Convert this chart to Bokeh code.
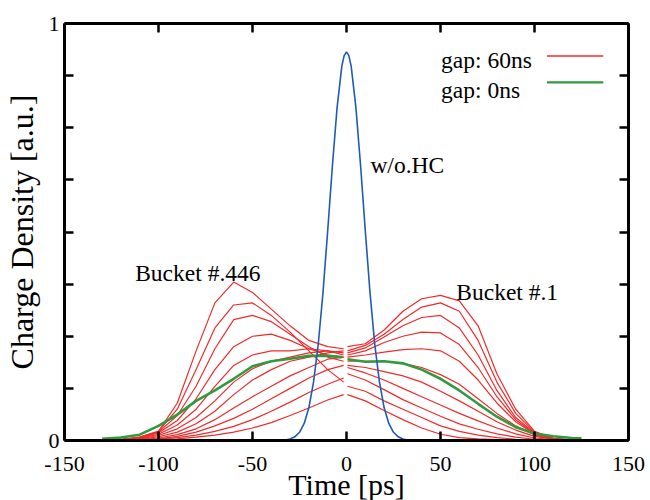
from bokeh.plotting import figure
from bokeh.models import LinearAxis, FixedTicker, Range1d, Label
from bokeh.embed import file_html
from bokeh.resources import INLINE

# ---------------- data ----------------
t_left = [-130, -120, -110, -100, -90, -80, -70, -60, -50, -40, -30, -20, -10, -1.5]
t_right = [0.5, 10, 20, 30, 40, 50, 60, 70, 80, 90, 100, 110, 120]

# gap 60 ns: profiles from bucket #446 (first row) to bucket #1 (last row)
red_left = [
    [0.0, 0.002, 0.008, 0.022, 0.090, 0.215, 0.330, 0.380, 0.355, 0.315, 0.275, 0.240, 0.225, 0.220],
    [0.0, 0.002, 0.008, 0.022, 0.075, 0.170, 0.270, 0.325, 0.330, 0.300, 0.260, 0.215, 0.170, 0.140],
    [0.0, 0.002, 0.007, 0.020, 0.060, 0.130, 0.220, 0.290, 0.300, 0.285, 0.255, 0.225, 0.200, 0.190],
    [0.0, 0.002, 0.006, 0.018, 0.048, 0.100, 0.170, 0.225, 0.250, 0.255, 0.240, 0.220, 0.205, 0.200],
    [0.0, 0.001, 0.005, 0.015, 0.037, 0.075, 0.130, 0.180, 0.205, 0.215, 0.215, 0.220, 0.215, 0.210],
    [0.0, 0.001, 0.004, 0.012, 0.028, 0.055, 0.095, 0.140, 0.172, 0.190, 0.200, 0.210, 0.215, 0.205],
    [0.0, 0.001, 0.003, 0.009, 0.020, 0.040, 0.070, 0.110, 0.145, 0.170, 0.190, 0.200, 0.210, 0.215],
    [0.0, 0.001, 0.002, 0.006, 0.014, 0.028, 0.050, 0.078, 0.105, 0.130, 0.155, 0.175, 0.195, 0.200],
    [0.0, 0.0, 0.002, 0.004, 0.010, 0.020, 0.035, 0.053, 0.075, 0.100, 0.125, 0.150, 0.170, 0.180],
    [0.0, 0.0, 0.001, 0.003, 0.007, 0.013, 0.022, 0.034, 0.050, 0.070, 0.092, 0.115, 0.135, 0.150],
    [0.0, 0.0, 0.001, 0.002, 0.004, 0.008, 0.013, 0.020, 0.030, 0.043, 0.060, 0.078, 0.097, 0.110],
]
red_right = [
    [0.110, 0.095, 0.072, 0.050, 0.030, 0.015, 0.007, 0.004, 0.002, 0.001, 0.0, 0.0, 0.0],
    [0.130, 0.118, 0.095, 0.075, 0.055, 0.035, 0.022, 0.013, 0.007, 0.003, 0.001, 0.0, 0.0],
    [0.160, 0.145, 0.122, 0.098, 0.078, 0.058, 0.040, 0.027, 0.016, 0.008, 0.003, 0.001, 0.0],
    [0.175, 0.162, 0.145, 0.125, 0.105, 0.085, 0.065, 0.047, 0.030, 0.016, 0.006, 0.002, 0.0],
    [0.180, 0.175, 0.165, 0.155, 0.140, 0.118, 0.095, 0.070, 0.045, 0.025, 0.010, 0.003, 0.001],
    [0.190, 0.190, 0.190, 0.185, 0.175, 0.158, 0.135, 0.100, 0.065, 0.035, 0.013, 0.003, 0.001],
    [0.200, 0.205, 0.212, 0.218, 0.220, 0.215, 0.190, 0.145, 0.090, 0.045, 0.015, 0.004, 0.001],
    [0.205, 0.215, 0.235, 0.250, 0.260, 0.258, 0.230, 0.175, 0.105, 0.050, 0.016, 0.004, 0.001],
    [0.210, 0.222, 0.248, 0.275, 0.295, 0.300, 0.270, 0.205, 0.120, 0.055, 0.018, 0.004, 0.001],
    [0.215, 0.228, 0.255, 0.290, 0.320, 0.330, 0.310, 0.240, 0.140, 0.065, 0.020, 0.005, 0.001],
    [0.225, 0.232, 0.265, 0.310, 0.340, 0.348, 0.335, 0.275, 0.160, 0.075, 0.022, 0.005, 0.001],
]

# gap 0 ns
green_t_left = [-130, -120, -110, -100, -90, -80, -70, -60, -50, -40, -30, -20, -10, -2.3]
green_left = [0.004, 0.007, 0.014, 0.035, 0.062, 0.095, 0.120, 0.148, 0.178, 0.190, 0.196, 0.203, 0.203, 0.200]
green_t_right = [0.5, 10, 20, 30, 40, 50, 60, 70, 80, 90, 100, 110, 120, 125]
green_right = [0.195, 0.189, 0.190, 0.185, 0.170, 0.148, 0.120, 0.088, 0.057, 0.032, 0.017, 0.010, 0.006, 0.005]

# without harmonic cavity
blue_t = [-35, -32.5, -30, -27.5, -25, -22.5, -20, -17.5, -15, -12.5, -10, -7.5, -5, -2.5, -1.25, 0,
          1.25, 2.5, 5, 7.5, 10, 12.5, 15, 17.5, 20, 22.5, 25, 27.5, 30, 32.5, 35]
blue_y = [0.0005, 0.0014, 0.0036, 0.0088, 0.0197, 0.041, 0.079, 0.141, 0.232, 0.355, 0.503, 0.659, 0.799, 0.897, 0.923, 0.932,
          0.923, 0.897, 0.799, 0.659, 0.503, 0.355, 0.232, 0.141, 0.079, 0.041, 0.0197, 0.0088, 0.0036, 0.0014, 0.0005]

x_ticks = [-150, -100, -50, 0, 50, 100, 150]
x_tick_labels = ["-150", "-100", "-50", "0", "50", "100", "150"]
y_ticks = [0, 0.125, 0.25, 0.375, 0.5, 0.625, 0.75, 0.875, 1]
y_tick_labels = ["0", "", "", "", "", "", "", "", "1"]

legend_labels = ["gap: 60ns", "gap: 0ns"]

# ---------------- style ----------------
RED = "#f22a2a"
GREEN = "#2f9a3e"
BLUE = "#1e5bb8"
FONT = "Liberation Serif"

p = figure(width=650, height=508, x_range=Range1d(-150, 150), y_range=Range1d(0, 1),
           output_backend="svg", toolbar_location=None,
           min_border_left=63, min_border_right=22, min_border_top=23, min_border_bottom=68)
p.grid.visible = False
p.outline_line_color = None
p.background_fill_color = "white"
p.border_fill_color = "white"

nan = float("nan")
for yl, yr in zip(red_left, red_right):
    p.line(t_left + [nan] + t_right, yl + [nan] + yr, line_color=RED, line_width=1.2)
p.line(green_t_left + [nan] + green_t_right, green_left + [nan] + green_right,
       line_color=GREEN, line_width=2.6)
p.line(blue_t, blue_y, line_color=BLUE, line_width=1.6)


def style_axis(ax, ticks, labels, show_labels):
    ax.ticker = FixedTicker(ticks=ticks)
    ax.major_label_overrides = {t: l for t, l in zip(ticks, labels)}
    ax.axis_line_width = 3
    ax.axis_line_color = "black"
    ax.major_tick_in = 9
    ax.major_tick_out = 0
    ax.major_tick_line_width = 2.5
    ax.minor_tick_in = 0
    ax.minor_tick_out = 0
    ax.major_label_text_font = FONT
    ax.major_label_text_color = "black"
    if show_labels:
        ax.major_label_text_font_size = "22px"
        ax.major_label_standoff = 5
    else:
        ax.major_label_text_font_size = "1px"
        ax.major_label_text_alpha = 0
        ax.major_label_standoff = 0
    ax.axis_label_text_font = FONT
    ax.axis_label_text_font_style = "normal"
    ax.axis_label_text_color = "black"


xa = p.xaxis[0]
style_axis(xa, x_ticks, x_tick_labels, True)
xa.major_label_standoff = 16
xa.axis_label = "Time [ps]"
xa.axis_label_text_font_size = "30px"
xa.axis_label_standoff = -6

ya = p.yaxis[0]
style_axis(ya, y_ticks, y_tick_labels, True)
ya.axis_label = "Charge Density [a.u.]"
ya.axis_label_text_font_size = "32px"
ya.axis_label_standoff = 6

ra = LinearAxis()
style_axis(ra, y_ticks, ["" for _ in y_ticks], False)
p.add_layout(ra, "right")
ta = LinearAxis()
style_axis(ta, x_ticks, ["" for _ in x_ticks], False)
p.add_layout(ta, "above")


def add_text(x, y, txt, size="23.5px"):
    p.add_layout(Label(x=x, y=y, text=txt, text_font=FONT, text_font_size=size,
                       text_color="black", text_align="left", text_baseline="alphabetic"))


add_text(-112.4, 0.401, "Bucket #.446")
add_text(58.4, 0.357, "Bucket #.1")
add_text(12.7, 0.661, "w/o.HC")

# legend (label then line sample, gnuplot style)
add_text(50.3, 0.9125, legend_labels[0])
add_text(50.3, 0.8405, legend_labels[1])
p.line([106.6, 136.6], [0.922, 0.922], line_color=RED, line_width=1.6)
p.line([106.6, 136.6], [0.859, 0.859], line_color=GREEN, line_width=2.2)

open("out.html", "w").write(file_html(p, INLINE))
